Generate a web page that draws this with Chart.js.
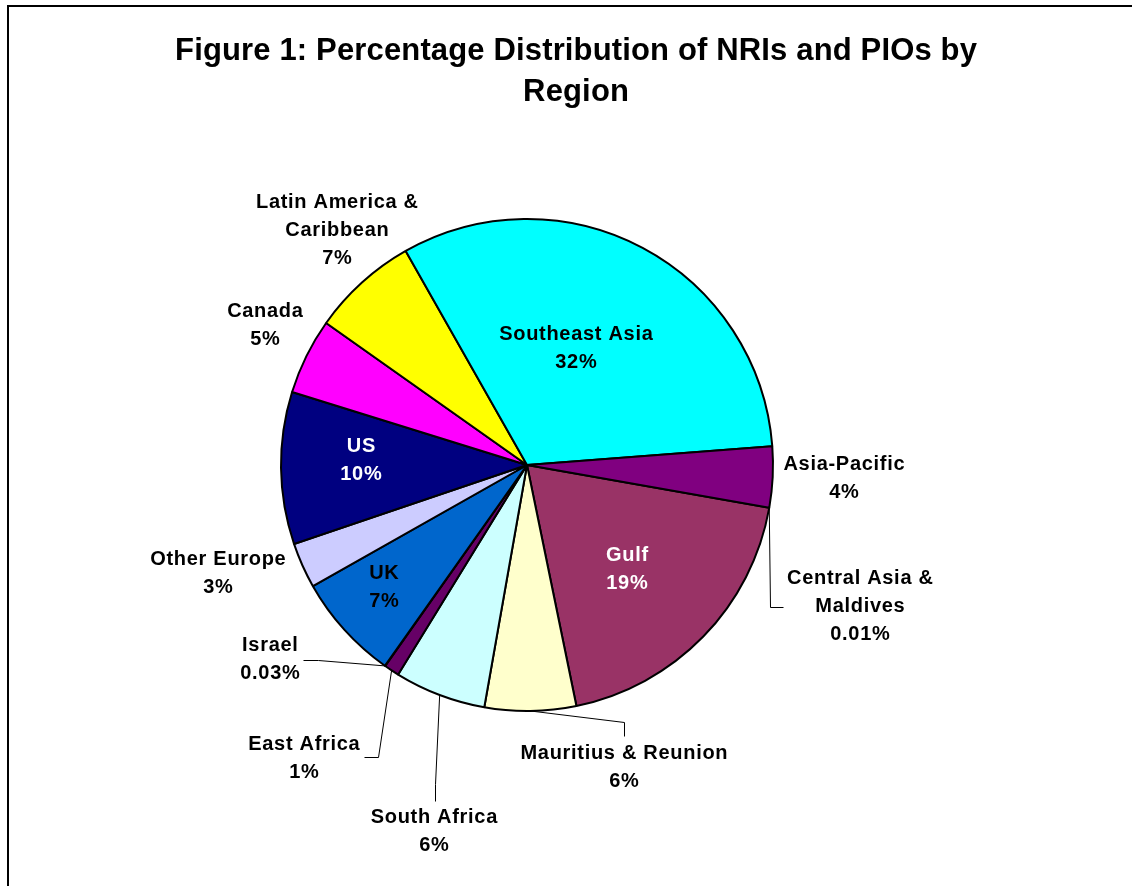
<!DOCTYPE html>
<html>
<head>
<meta charset="utf-8">
<title>NRIs and PIOs by Region</title>
<script src="https://cdn.jsdelivr.net/npm/chart.js@4.4.1/dist/chart.umd.min.js"></script>
<style>
  html, body { margin: 0; padding: 0; background: #fff; }
  canvas { display: block; }
</style>
</head>
<body>
<canvas id="regionPie" width="1132" height="886"></canvas>
<script>
// regions, in slice order (clockwise from the Central Asia slice)
var categories = [
  ['Central Asia &', 'Maldives'], 'Gulf', 'Mauritius & Reunion', 'South Africa',
  'East Africa', 'Israel', 'UK', 'Other Europe', 'US', 'Canada',
  ['Latin America &', 'Caribbean'], 'Southeast Asia', 'Asia-Pacific'
];
// share of NRIs and PIOs, %
var shares = [0.01, 19, 6, 6, 1, 0.03, 7, 3, 10, 5, 7, 32, 4];

var sliceColors = [
  '#9999FF', '#993366', '#FFFFCC', '#CCFFFF', '#660066', '#FF8080',
  '#0066CC', '#CCCCFF', '#000080', '#FF00FF', '#FFFF00', '#00FFFF', '#800080'
];

var titleLines = ['Figure 1: Percentage Distribution of NRIs and PIOs by', 'Region'];

// where each data label sits (centre of first line), text colour, leader line (label end, elbow)
var labelLayout = [
  { x: 860, y: 578, color: '#000', leader: [[783, 607], [770, 607]] },
  { x: 627, y: 555, color: '#fff' },
  { x: 624, y: 753, color: '#000', leader: [[624, 736], [624, 722]] },
  { x: 434, y: 817, color: '#000', leader: [[435, 801], [435, 784]] },
  { x: 304, y: 744, color: '#000', leader: [[364, 757], [378, 757]] },
  { x: 270, y: 645, color: '#000', leader: [[303, 660], [318, 660]] },
  { x: 384, y: 573, color: '#000' },
  { x: 218, y: 559, color: '#000' },
  { x: 361, y: 446, color: '#fff' },
  { x: 265, y: 311, color: '#000' },
  { x: 337, y: 202, color: '#000' },
  { x: 576, y: 334, color: '#000' },
  { x: 844, y: 464, color: '#000' }
];

var LABEL_FONT = 'bold 20px "Liberation Sans", Arial, sans-serif';
var LABEL_SPACING = 0.7;
var TITLE_FONT = 'bold 31px "Liberation Sans", Arial, sans-serif';
var TITLE_SPACING = 0.15;
var LINE_H = 28;

function pctText(v) {
  return v + '%';
}

// centred text with tracking; canvas adds the spacing after the last glyph too
function spacedText(ctx, text, x, y, spacing) {
  if ('letterSpacing' in ctx) {
    ctx.letterSpacing = spacing + 'px';
    ctx.fillText(text, x + spacing / 2, y);
    ctx.letterSpacing = '0px';
  } else {
    ctx.fillText(text, x, y);
  }
}

// frame, title, slice labels and leader lines
var decorations = {
  id: 'decorations',
  afterDraw: function(chart) {
    var ctx = chart.ctx;
    ctx.save();

    // chart frame (only left/top edges fall inside the page)
    ctx.strokeStyle = '#000';
    ctx.lineWidth = 2;
    ctx.beginPath();
    ctx.moveTo(8, 900);
    ctx.lineTo(8, 6);
    ctx.lineTo(1140, 6);
    ctx.stroke();

    ctx.fillStyle = '#000';
    ctx.font = TITLE_FONT;
    ctx.textAlign = 'center';
    ctx.textBaseline = 'middle';
    for (var t = 0; t < titleLines.length; t++) {
      spacedText(ctx, titleLines[t], 576, 51 + t * 41, TITLE_SPACING);
    }

    var arcs = chart.getDatasetMeta(0).data;
    ctx.font = LABEL_FONT;
    arcs.forEach(function(arc, i) {
      var lay = labelLayout[i];
      var p = arc.getProps(['x', 'y', 'startAngle', 'endAngle', 'outerRadius'], true);

      if (lay.leader) {
        var mid = (p.startAngle + p.endAngle) / 2;
        var ax = p.x + Math.cos(mid) * p.outerRadius;
        var ay = p.y + Math.sin(mid) * p.outerRadius;
        ctx.strokeStyle = '#000';
        ctx.lineWidth = 1;
        ctx.beginPath();
        ctx.moveTo(lay.leader[0][0] + 0.5, lay.leader[0][1] + 0.5);
        ctx.lineTo(lay.leader[1][0] + 0.5, lay.leader[1][1] + 0.5);
        ctx.lineTo(ax, ay);
        ctx.stroke();
      }

      var name = categories[i];
      var lines = (Array.isArray(name) ? name.slice() : [name]);
      lines.push(pctText(shares[i]));
      ctx.fillStyle = lay.color;
      for (var k = 0; k < lines.length; k++) {
        spacedText(ctx, lines[k], lay.x, lay.y + k * LINE_H, LABEL_SPACING);
      }
    });

    ctx.restore();
  }
};

var ctx = document.getElementById('regionPie').getContext('2d');
var chart = new Chart(ctx, {
  type: 'pie',
  data: {
    labels: categories,
    datasets: [{
      data: shares,
      backgroundColor: sliceColors,
      borderColor: '#000',
      borderWidth: 2
    }]
  },
  options: {
    responsive: false,
    animation: false,
    rotation: 100,
    layout: {
      padding: { left: 280, right: 358, top: 218, bottom: 174 }
    },
    plugins: {
      legend: { display: false },
      tooltip: { enabled: false }
    }
  },
  plugins: [decorations]
});
</script>
</body>
</html>
